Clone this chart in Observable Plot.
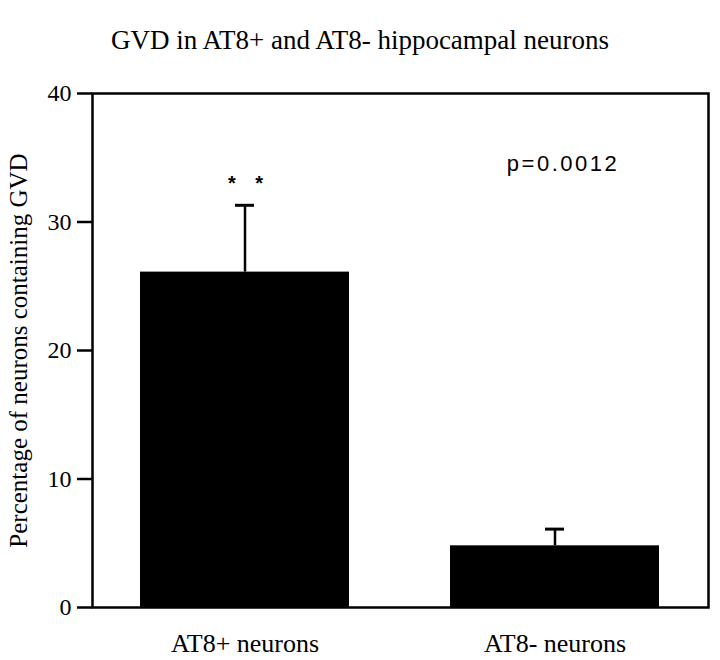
<!DOCTYPE html>
<html>
<head>
<meta charset="utf-8">
<script src="https://cdn.jsdelivr.net/npm/d3@7"></script>
<script src="https://cdn.jsdelivr.net/npm/@observablehq/plot@0.6"></script>
<style>
  body { margin: 0; background: #fff; }
  #title { height: 70px; width: 720px; font-family: "Liberation Serif", serif; font-size: 27px; color: #000; text-align: center; line-height: 1; padding-top: 27px; box-sizing: border-box; }
</style>
</head>
<body>
<div id="title">GVD in AT8+ and AT8- hippocampal neurons</div>
<div id="chart"></div>
<script>
const categories = ["AT8+ neurons", "AT8- neurons"];
const percentages = [26.1, 4.8];
const errors = [5.2, 1.3];
const significance = ["* *", ""];
const yTicks = [0, 10, 20, 30, 40];
const pLabel = "p=0.0012";

const data = categories.map((c, i) => ({ cat: c, value: percentages[i], err: percentages[i] + errors[i], sig: significance[i] }));

const chart = Plot.plot({
  width: 720,
  height: 590,
  marginTop: 23,
  marginBottom: 53,
  marginLeft: 92,
  marginRight: 12,
  style: { fontFamily: "Liberation Serif, serif", fontSize: "22px", color: "#000", background: "#fff", overflow: "visible" },
  x: { domain: categories, paddingInner: 0.325, paddingOuter: 0.153, label: null },
  y: { domain: [0, 40], ticks: yTicks, label: null },
  marks: [
    Plot.barY(data, { x: "cat", y: "value", fill: "#000" }),
    Plot.ruleX(data, { x: "cat", y1: "value", y2: "err", stroke: "#000", strokeWidth: 2.5 }),
    Plot.tickY(data, { x: "cat", y: "err", stroke: "#000", strokeWidth: 3, insetLeft: 95, insetRight: 95 }),
    Plot.text(data, { x: "cat", y: "err", text: "sig", dy: -22, dx: 4, fontSize: 20, fontWeight: "bold", fontFamily: "Liberation Sans, sans-serif" }),
    Plot.text([pLabel], { x: () => categories[1], frameAnchor: "top", text: d => d, dy: 62, dx: 8, fontSize: 22, fontFamily: "Liberation Sans, sans-serif" }),
    Plot.axisY({ ticks: yTicks, tickSize: 15, tickPadding: 6, strokeWidth: 2.5, fontSize: 24, label: null }),
    Plot.axisX({ tickSize: 0, tickPadding: 26, fontSize: 26, label: null }),
    Plot.text(["Percentage of neurons containing GVD"], { frameAnchor: "left", textAnchor: "middle", text: d => d, rotate: -90, dx: -74, fontSize: 25 }),
    Plot.frame({ stroke: "#000", strokeWidth: 2.5 })
  ]
});
document.getElementById("chart").appendChild(chart);
d3.select(chart).selectAll("text").filter(function() { return this.textContent === pLabel; }).style("letter-spacing", "2.5px");
d3.select(chart).selectAll("text").filter(function() { return this.textContent === "* *"; }).style("letter-spacing", "7px");
</script>
</body>
</html>
